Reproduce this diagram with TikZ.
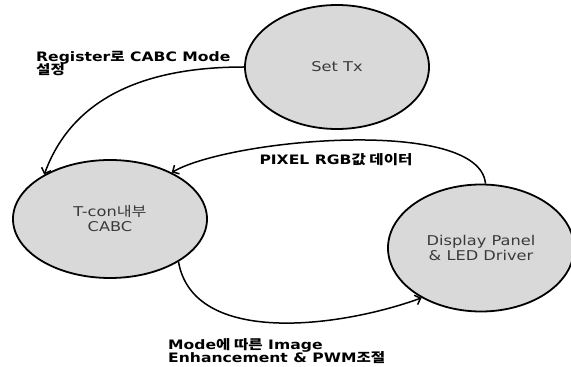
\documentclass[tikz,border=0pt]{standalone}
\usepackage{fontspec}
\setmainfont{DejaVu Sans}[FakeStretch=1.2]
\newfontfamily\kr{Noto Sans CJK KR}[FakeStretch=1.2]
\usetikzlibrary{shapes.geometric, arrows.meta}
\definecolor{stategray}{HTML}{D9D9D9}
\definecolor{statetext}{HTML}{3A3A3A}
\newcommand\tightlines{\lineskiplimit=-20pt\relax}
\tikzset{
x=1pt, y=1pt, % one unit is one pixel of the picture
>={Straight Barb[length=5pt,width=10pt]}, % open arrow heads
every edge/.style={draw, ->, line width=1.5pt}, % directed edges
stateell/.style={ellipse, draw, line width=1.8pt, fill=stategray, text=statetext, inner sep=0pt, align=center, font=\fontsize{13.5}{15}\selectfont}, % the three ellipses
edgelbl/.style={inner sep=0pt, align=left, font=\bfseries\fontsize{13}{13.2}\selectfont\tightlines}, % the bold labels
}

\begin{document}
\begin{tikzpicture}
                \useasboundingbox (0,0) rectangle (571,367);
                \node[stateell, minimum width=184, minimum height=124] (set_tx) at (337,300) {Set Tx};
                \node[stateell, minimum width=194, minimum height=118] (tcon) at (110,148) {T-con{\kr 내부}\\CABC};
                \node[stateell, minimum width=186, minimum height=127] (disp) at (481,119) {Display Panel\\\& LED Driver};

                \node[edgelbl, anchor=north west] (reg_lbl) at (36,316) {Register{\kr 로} CABC Mode\\{\kr 설정}};
                \node[edgelbl] (pix_lbl) at (336,207) {PIXEL RGB{\kr 값 데이터}};
                \node[edgelbl, anchor=north west] (mode_lbl) at (168,29) {Mode{\kr 에 따른} Image\\Enhancement \& PWM{\kr 조절}};
                \draw
                    (set_tx.180) edge[out=180, in=70] (tcon.146)
                    (disp.86) edge[out=95, in=30, looseness=0.55] (tcon.37)
                    (tcon.-32) edge[out=-80, in=200, looseness=0.9] (disp.220)
                    ;
                \end{tikzpicture}
\end{document}
